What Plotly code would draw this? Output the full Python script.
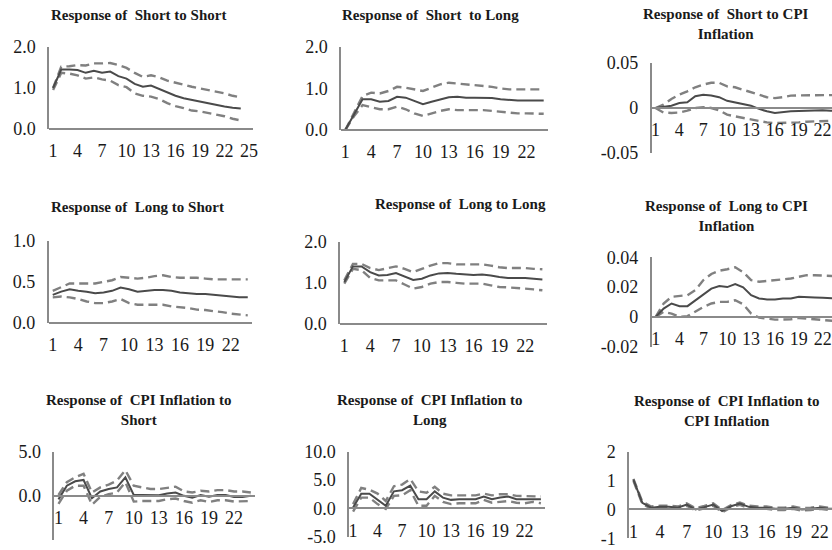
import plotly.graph_objects as go

W, H = 832, 550

# ---------------- data ----------------
periods = list(range(1, 25))

short_short_mid = [1.00, 1.45, 1.45, 1.44, 1.37, 1.42, 1.37, 1.40, 1.29, 1.23, 1.10, 1.03, 1.06, 0.98, 0.89, 0.81, 0.75, 0.71, 0.67, 0.63, 0.58, 0.55, 0.52, 0.50]
short_short_up = [1.00, 1.52, 1.53, 1.56, 1.55, 1.60, 1.60, 1.61, 1.56, 1.49, 1.37, 1.27, 1.31, 1.26, 1.18, 1.13, 1.07, 1.03, 0.99, 0.95, 0.91, 0.87, 0.81, 0.77]
short_short_lo = [0.95, 1.37, 1.35, 1.31, 1.23, 1.26, 1.21, 1.18, 1.07, 1.02, 0.87, 0.81, 0.79, 0.73, 0.63, 0.56, 0.51, 0.45, 0.43, 0.39, 0.35, 0.31, 0.25, 0.21]

short_long_mid = [0.00, 0.38, 0.74, 0.74, 0.68, 0.70, 0.80, 0.78, 0.70, 0.62, 0.68, 0.74, 0.79, 0.80, 0.78, 0.78, 0.77, 0.77, 0.74, 0.72, 0.71, 0.71, 0.71, 0.71]
short_long_up = [0.00, 0.42, 0.82, 0.90, 0.88, 0.94, 1.04, 1.02, 0.98, 0.94, 1.02, 1.10, 1.14, 1.12, 1.10, 1.08, 1.06, 1.04, 1.00, 0.98, 0.98, 0.98, 0.98, 0.98]
short_long_lo = [0.00, 0.33, 0.60, 0.55, 0.50, 0.50, 0.56, 0.50, 0.40, 0.34, 0.40, 0.46, 0.50, 0.48, 0.48, 0.48, 0.48, 0.46, 0.44, 0.42, 0.40, 0.40, 0.40, 0.39]

short_cpi_mid = [0.0, 0.001, 0.0026, 0.0056, 0.0063, 0.013, 0.0148, 0.014, 0.012, 0.008, 0.0063, 0.0044, 0.0026, -0.001, -0.0037, -0.0055, -0.0044, -0.0037, -0.0033, -0.003, -0.0026, -0.0026, -0.003, -0.003]
short_cpi_up = [0.0, 0.0037, 0.010, 0.0148, 0.0185, 0.023, 0.026, 0.028, 0.028, 0.024, 0.023, 0.020, 0.0174, 0.0148, 0.012, 0.011, 0.012, 0.0137, 0.014, 0.014, 0.0144, 0.0144, 0.0144, 0.0144]
short_cpi_lo = [0.0, -0.005, -0.0055, -0.005, -0.003, 0.0, 0.001, 0.0, -0.0026, -0.0074, -0.0093, -0.011, -0.013, -0.0148, -0.016, -0.0167, -0.0167, -0.0167, -0.016, -0.0152, -0.0148, -0.0148, -0.0144, -0.014]

long_short_mid = [0.34, 0.38, 0.41, 0.39, 0.38, 0.36, 0.37, 0.39, 0.43, 0.41, 0.38, 0.39, 0.40, 0.40, 0.39, 0.37, 0.36, 0.35, 0.35, 0.34, 0.33, 0.32, 0.31, 0.31]
long_short_up = [0.39, 0.44, 0.48, 0.48, 0.48, 0.48, 0.50, 0.52, 0.56, 0.55, 0.54, 0.55, 0.57, 0.58, 0.56, 0.55, 0.55, 0.55, 0.54, 0.53, 0.53, 0.53, 0.53, 0.53]
long_short_lo = [0.31, 0.32, 0.31, 0.29, 0.26, 0.24, 0.24, 0.26, 0.29, 0.24, 0.22, 0.22, 0.22, 0.22, 0.20, 0.19, 0.18, 0.16, 0.155, 0.14, 0.13, 0.11, 0.10, 0.09]

long_long_mid = [1.02, 1.40, 1.40, 1.26, 1.18, 1.19, 1.24, 1.15, 1.07, 1.10, 1.18, 1.23, 1.24, 1.22, 1.20, 1.19, 1.20, 1.18, 1.14, 1.12, 1.12, 1.12, 1.10, 1.08]
long_long_up = [1.06, 1.46, 1.46, 1.36, 1.31, 1.36, 1.40, 1.34, 1.26, 1.34, 1.42, 1.48, 1.48, 1.45, 1.45, 1.46, 1.45, 1.42, 1.38, 1.36, 1.36, 1.36, 1.34, 1.33]
long_long_lo = [0.98, 1.34, 1.31, 1.12, 1.06, 1.06, 1.06, 0.96, 0.86, 0.90, 0.98, 1.02, 1.02, 1.00, 0.98, 0.98, 0.98, 0.94, 0.90, 0.89, 0.88, 0.86, 0.84, 0.82]

long_cpi_mid = [0.0, 0.0056, 0.009, 0.0072, 0.0072, 0.011, 0.015, 0.019, 0.0207, 0.020, 0.022, 0.0198, 0.0146, 0.0124, 0.0117, 0.0117, 0.0124, 0.0124, 0.0135, 0.0135, 0.013, 0.0128, 0.0124, 0.0122]
long_cpi_up = [0.0, 0.009, 0.0135, 0.014, 0.0146, 0.018, 0.0247, 0.0288, 0.031, 0.032, 0.0333, 0.030, 0.0247, 0.0236, 0.024, 0.0247, 0.0252, 0.0258, 0.027, 0.028, 0.028, 0.0276, 0.0274, 0.0272]
long_cpi_lo = [0.0, 0.0034, 0.0022, 0.0, 0.0005, 0.0034, 0.0067, 0.009, 0.0101, 0.0101, 0.0112, 0.0085, 0.0022, -0.0005, -0.0011, -0.0018, -0.0018, -0.0016, -0.0007, -0.0011, -0.0018, -0.0022, -0.0027, -0.003]

cpi_short_mid = [-0.4, 1.15, 1.65, 1.8, -0.27, 0.5, 0.77, 0.96, 2.1, 0.1, 0.1, 0.08, 0.08, 0.27, 0.38, 0.0, -0.2, 0.1, -0.1, 0.1, 0.1, -0.12, -0.12, 0.0]
cpi_short_up = [0.1, 1.55, 2.1, 2.5, 0.38, 0.96, 1.27, 1.73, 2.9, 1.15, 0.96, 0.77, 0.77, 0.88, 1.04, 0.5, 0.38, 0.58, 0.5, 0.65, 0.65, 0.5, 0.5, 0.38]
cpi_short_lo = [-0.9, 0.58, 1.15, 1.15, -1.0, -0.12, 0.19, 0.38, 1.54, -0.65, -0.58, -0.58, -0.58, -0.38, -0.3, -0.58, -0.77, -0.5, -0.7, -0.5, -0.5, -0.65, -0.65, -0.58]

cpi_long_mid = [0.17, 2.6, 2.6, 1.6, 0.46, 3.0, 3.2, 4.0, 1.6, 1.6, 3.0, 1.9, 1.5, 1.6, 1.6, 1.6, 2.1, 1.6, 1.9, 2.1, 1.6, 1.6, 1.7, 1.6]
cpi_long_up = [0.75, 3.6, 3.3, 2.6, 1.3, 3.9, 4.2, 5.2, 3.0, 2.75, 3.8, 2.6, 2.3, 2.3, 2.3, 2.3, 2.6, 2.3, 2.5, 2.5, 2.2, 2.2, 2.2, 2.1]
cpi_long_lo = [-0.57, 1.9, 1.9, 0.75, -0.1, 2.2, 2.3, 3.2, 0.46, 0.46, 2.2, 1.15, 0.75, 0.9, 0.9, 0.9, 1.5, 1.0, 1.15, 1.3, 1.0, 0.9, 1.15, 0.9]

cpi_cpi_mid = [1.03, 0.23, 0.06, 0.09, 0.09, 0.06, 0.17, 0.0, 0.08, 0.17, -0.06, 0.11, 0.2, 0.09, 0.06, 0.06, 0.02, 0.02, 0.06, 0.0, 0.02, 0.06, 0.02, 0.02]
cpi_cpi_up = [1.06, 0.27, 0.10, 0.13, 0.13, 0.10, 0.21, 0.04, 0.12, 0.21, -0.02, 0.15, 0.24, 0.13, 0.10, 0.10, 0.06, 0.06, 0.10, 0.04, 0.06, 0.10, 0.06, 0.06]
cpi_cpi_lo = [0.99, 0.19, 0.02, 0.05, 0.05, 0.02, 0.13, -0.04, 0.04, 0.13, -0.10, 0.07, 0.16, 0.05, 0.02, 0.02, -0.02, -0.02, 0.02, -0.04, -0.02, 0.02, -0.02, -0.02]

x_ticks_24 = [1, 4, 7, 10, 13, 16, 19, 22]
x_ticks_25 = [1, 4, 7, 10, 13, 16, 19, 22, 25]

y_ticks_0_2 = [0, 1, 2]
y_labels_0_2 = ["0.0", "1.0", "2.0"]
y_ticks_0_1 = [0, 0.5, 1]
y_labels_0_1 = ["0.0", "0.5", "1.0"]
y_ticks_short_cpi = [-0.05, 0, 0.05]
y_labels_short_cpi = ["-0.05", "0", "0.05"]
y_ticks_long_cpi = [-0.02, 0, 0.02, 0.04]
y_labels_long_cpi = ["-0.02", "0", "0.02", "0.04"]
y_ticks_cpi_short = [-5, 0, 5]
y_labels_cpi_short = ["-5.0", "0.0", "5.0"]
y_ticks_cpi_long = [-5, 0, 5, 10]
y_labels_cpi_long = ["-5.0", "0.0", "5.0", "10.0"]
y_ticks_cpi_cpi = [-1, 0, 1, 2]
y_labels_cpi_cpi = ["-1", "0", "1", "2"]

NB = "\u00a0"
titles = [
    f"Response of{NB} Short to Short",
    f"Response of{NB} Short{NB} to Long",
    f"Response of{NB} Short to CPI<br>Inflation",
    f"Response of{NB} Long to Short",
    f"Response of{NB} Long to Long",
    f"Response of{NB} Long to CPI<br>Inflation",
    f"Response of{NB} CPI Inflation to<br>Short",
    f"Response of{NB} CPI Inflation to<br>Long",
    f"Response of{NB} CPI Inflation to<br>CPI Inflation",
]

series = [
    (short_short_mid, short_short_up, short_short_lo),
    (short_long_mid, short_long_up, short_long_lo),
    (short_cpi_mid, short_cpi_up, short_cpi_lo),
    (long_short_mid, long_short_up, long_short_lo),
    (long_long_mid, long_long_up, long_long_lo),
    (long_cpi_mid, long_cpi_up, long_cpi_lo),
    (cpi_short_mid, cpi_short_up, cpi_short_lo),
    (cpi_long_mid, cpi_long_up, cpi_long_lo),
    (cpi_cpi_mid, cpi_cpi_up, cpi_cpi_lo),
]

yticks = [
    (y_ticks_0_2, y_labels_0_2), (y_ticks_0_2, y_labels_0_2), (y_ticks_short_cpi, y_labels_short_cpi),
    (y_ticks_0_1, y_labels_0_1), (y_ticks_0_2, y_labels_0_2), (y_ticks_long_cpi, y_labels_long_cpi),
    (y_ticks_cpi_short, y_labels_cpi_short), (y_ticks_cpi_long, y_labels_cpi_long), (y_ticks_cpi_cpi, y_labels_cpi_cpi),
]

# ---------------- layout geometry (pixels) ----------------
geom = [
    dict(l=49, r=253, t=47, b=129, xr=(0.5, 25.5), xt=x_ticks_25, tc=(138, 15)),
    dict(l=341, r=548, t=47, b=130, xr=(0.5, 24.5), xt=x_ticks_24, tc=(430, 15)),
    dict(l=651.5, r=832, t=63, b=153, xr=(0.5, 23.18), xt=x_ticks_24, tc=(726, 23.5)),
    dict(l=48.5, r=252, t=241, b=322.7, xr=(0.5, 24.5), xt=x_ticks_24, tc=(137, 207)),
    dict(l=340, r=546.7, t=241.7, b=324, xr=(0.5, 24.5), xt=x_ticks_24, tc=(460, 204)),
    dict(l=651.7, r=832, t=257.3, b=346.7, xr=(0.5, 23.17), xt=x_ticks_24, tc=(726, 216.5)),
    dict(l=54.3, r=255, t=451.7, b=540, xr=(0.5, 24.5), xt=x_ticks_24, tc=(138, 410)),
    dict(l=349, r=545, t=451.7, b=536.7, xr=(0.5, 24.5), xt=x_ticks_24, tc=(429, 410)),
    dict(l=629, r=832, t=451.7, b=538.3, xr=(0.5, 23.39), xt=x_ticks_24, tc=(726, 410.5)),
]

SERIF = "Liberation Serif, Times New Roman, serif"
AXIS_COLOR = "#8a8a8a"
SOLID_COLOR = "#4a4a4a"
DASH_COLOR = "#808080"

fig = go.Figure()
layout = {}
annotations = []

for i, (g, (mid, up, lo), (yv, yl), title) in enumerate(zip(geom, series, yticks, titles)):
    k = i + 1
    sfx = str(k) if k > 1 else ""
    xa, ya = "x" + sfx, "y" + sfx
    ymin, ymax = yv[0], yv[-1]
    dom_x = [g["l"] / W, min(g["r"] / W, 1.0)]
    dom_y = [1 - g["b"] / H, 1 - g["t"] / H]
    zero_pos = dom_y[0] + (0 - ymin) / (ymax - ymin) * (dom_y[1] - dom_y[0])

    for vals, dash, col, wd in ((lo, "9px,5px", DASH_COLOR, 2.4), (up, "9px,5px", DASH_COLOR, 2.4), (mid, "solid", SOLID_COLOR, 2.0)):
        fig.add_trace(go.Scatter(x=periods, y=vals, mode="lines", xaxis=xa, yaxis=ya,
                                 line=dict(color=col, width=wd, dash=dash),
                                 showlegend=False, hoverinfo="skip"))

    layout["xaxis" + sfx] = dict(
        domain=dom_x, range=list(g["xr"]), anchor="free", position=zero_pos,
        showline=True, linecolor=AXIS_COLOR, linewidth=1.5, automargin=False,
        showgrid=False, zeroline=False, ticks="",
        tickmode="array", tickvals=g["xt"], ticktext=[str(v) for v in g["xt"]],
        tickfont=dict(family=SERIF, size=18, color="#1a1a1a"),
        ticklabelstandoff=6, fixedrange=True,
    )
    layout["yaxis" + sfx] = dict(
        domain=dom_y, range=[ymin, ymax], anchor=xa,
        showline=True, linecolor=AXIS_COLOR, linewidth=1.5, automargin=False,
        showgrid=False, zeroline=False, ticks="",
        tickmode="array", tickvals=yv, ticktext=yl,
        tickfont=dict(family=SERIF, size=18, color="#1a1a1a"),
        ticklabelstandoff=8, fixedrange=True,
    )
    annotations.append(dict(
        text="<b>" + title.replace("<br>", "</b><br><b>") + "</b>",
        xref="paper", yref="paper", x=g["tc"][0] / W, y=1 - g["tc"][1] / H,
        xanchor="center", yanchor="middle", showarrow=False,
        font=dict(family=SERIF, size=15, color="#1a1a1a"),
    ))

fig.update_layout(
    template="none",
    width=W, height=H, margin=dict(l=0, r=0, t=0, b=0, autoexpand=False),
    paper_bgcolor="white", plot_bgcolor="white",
    annotations=annotations, **layout,
)

fig.write_html(
    "out.html",
    config={"displayModeBar": False},
    post_script="document.body.style.margin='0';document.body.style.overflow='hidden';",
)
